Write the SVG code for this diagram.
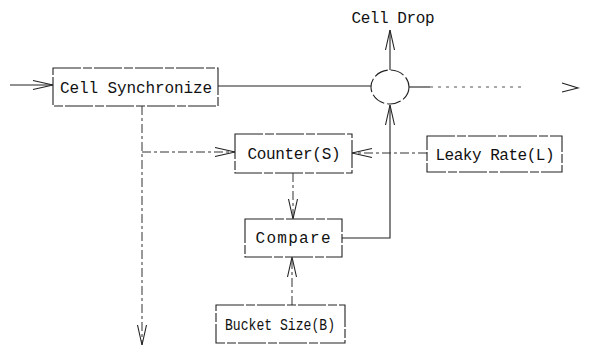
<svg xmlns="http://www.w3.org/2000/svg" width="589" height="348" viewBox="0 0 589 348">
<style>
.box{fill:#fff;stroke:#222;stroke-width:1.1;stroke-dasharray:28 2 9 2}
.t{font-family:"Liberation Mono","DejaVu Sans Mono",monospace;font-size:16px;fill:#111;text-anchor:middle}
.ln{fill:none;stroke:#222;stroke-width:1.1}
.dd{fill:none;stroke:#333;stroke-width:1;stroke-dasharray:9 3 3 3}
.dt{fill:none;stroke:#555;stroke-width:1;stroke-dasharray:3 5}
.ah{fill:none;stroke:#222;stroke-width:1.1}
</style>
<defs>
<marker id="arr" markerUnits="userSpaceOnUse" markerWidth="24" markerHeight="12" refX="20" refY="6" orient="auto" overflow="visible">
<path d="M0,1.5 L20,6 L0,10.5" fill="none" stroke="#222" stroke-width="1.1"/>
</marker>
</defs>
<g id="connectors">
<line class="ln" x1="10" y1="85" x2="53" y2="85" marker-end="url(#arr)"/>
<line class="ln" x1="218" y1="86" x2="371" y2="86"/>
<line class="ln" x1="409" y1="87" x2="430" y2="87"/>
<line class="dt" x1="430" y1="87" x2="525" y2="87"/>
<path class="ah" d="M562,83 L578,88 L562,92"/>
<line class="ln" x1="390" y1="70" x2="390" y2="30" marker-end="url(#arr)"/>
<path class="ln" d="M342,238 L390,238 L390,105" marker-end="url(#arr)"/>
<line class="dd" x1="142" y1="106" x2="142" y2="345" marker-end="url(#arr)"/>
<line class="dd" x1="142" y1="152" x2="235" y2="152" marker-end="url(#arr)"/>
<line class="dd" x1="427" y1="153" x2="352" y2="153" marker-end="url(#arr)"/>
<line class="dd" x1="293" y1="173" x2="293" y2="219" marker-end="url(#arr)"/>
<line class="dd" x1="292" y1="305" x2="292" y2="257" marker-end="url(#arr)"/>
</g>
<g id="cell-sync">
<rect class="box" x="53" y="68" width="165" height="38"/>
<text class="t" x="136" y="93" textLength="152">Cell Synchronize</text>
</g>
<g id="cell-drop">
<text class="t" x="393" y="23" textLength="83">Cell Drop</text>
</g>
<g id="junction">
<ellipse class="box" cx="390" cy="87" rx="19" ry="17" style="stroke-dasharray:14 3"/>
</g>
<g id="counter">
<rect class="box" x="235" y="134" width="117" height="39"/>
<text class="t" x="294" y="159" textLength="93">Counter(S)</text>
</g>
<g id="leaky-rate">
<rect class="box" x="427" y="136" width="135" height="36"/>
<text class="t" x="495" y="160" textLength="119">Leaky Rate(L)</text>
</g>
<g id="compare">
<rect class="box" x="245" y="219" width="97" height="38"/>
<text class="t" x="293" y="243" textLength="75">Compare</text>
</g>
<g id="bucket-size">
<rect class="box" x="216" y="305" width="129" height="38"/>
<text class="t" x="280" y="330" textLength="110" lengthAdjust="spacingAndGlyphs">Bucket Size(B)</text>
</g>
</svg>
